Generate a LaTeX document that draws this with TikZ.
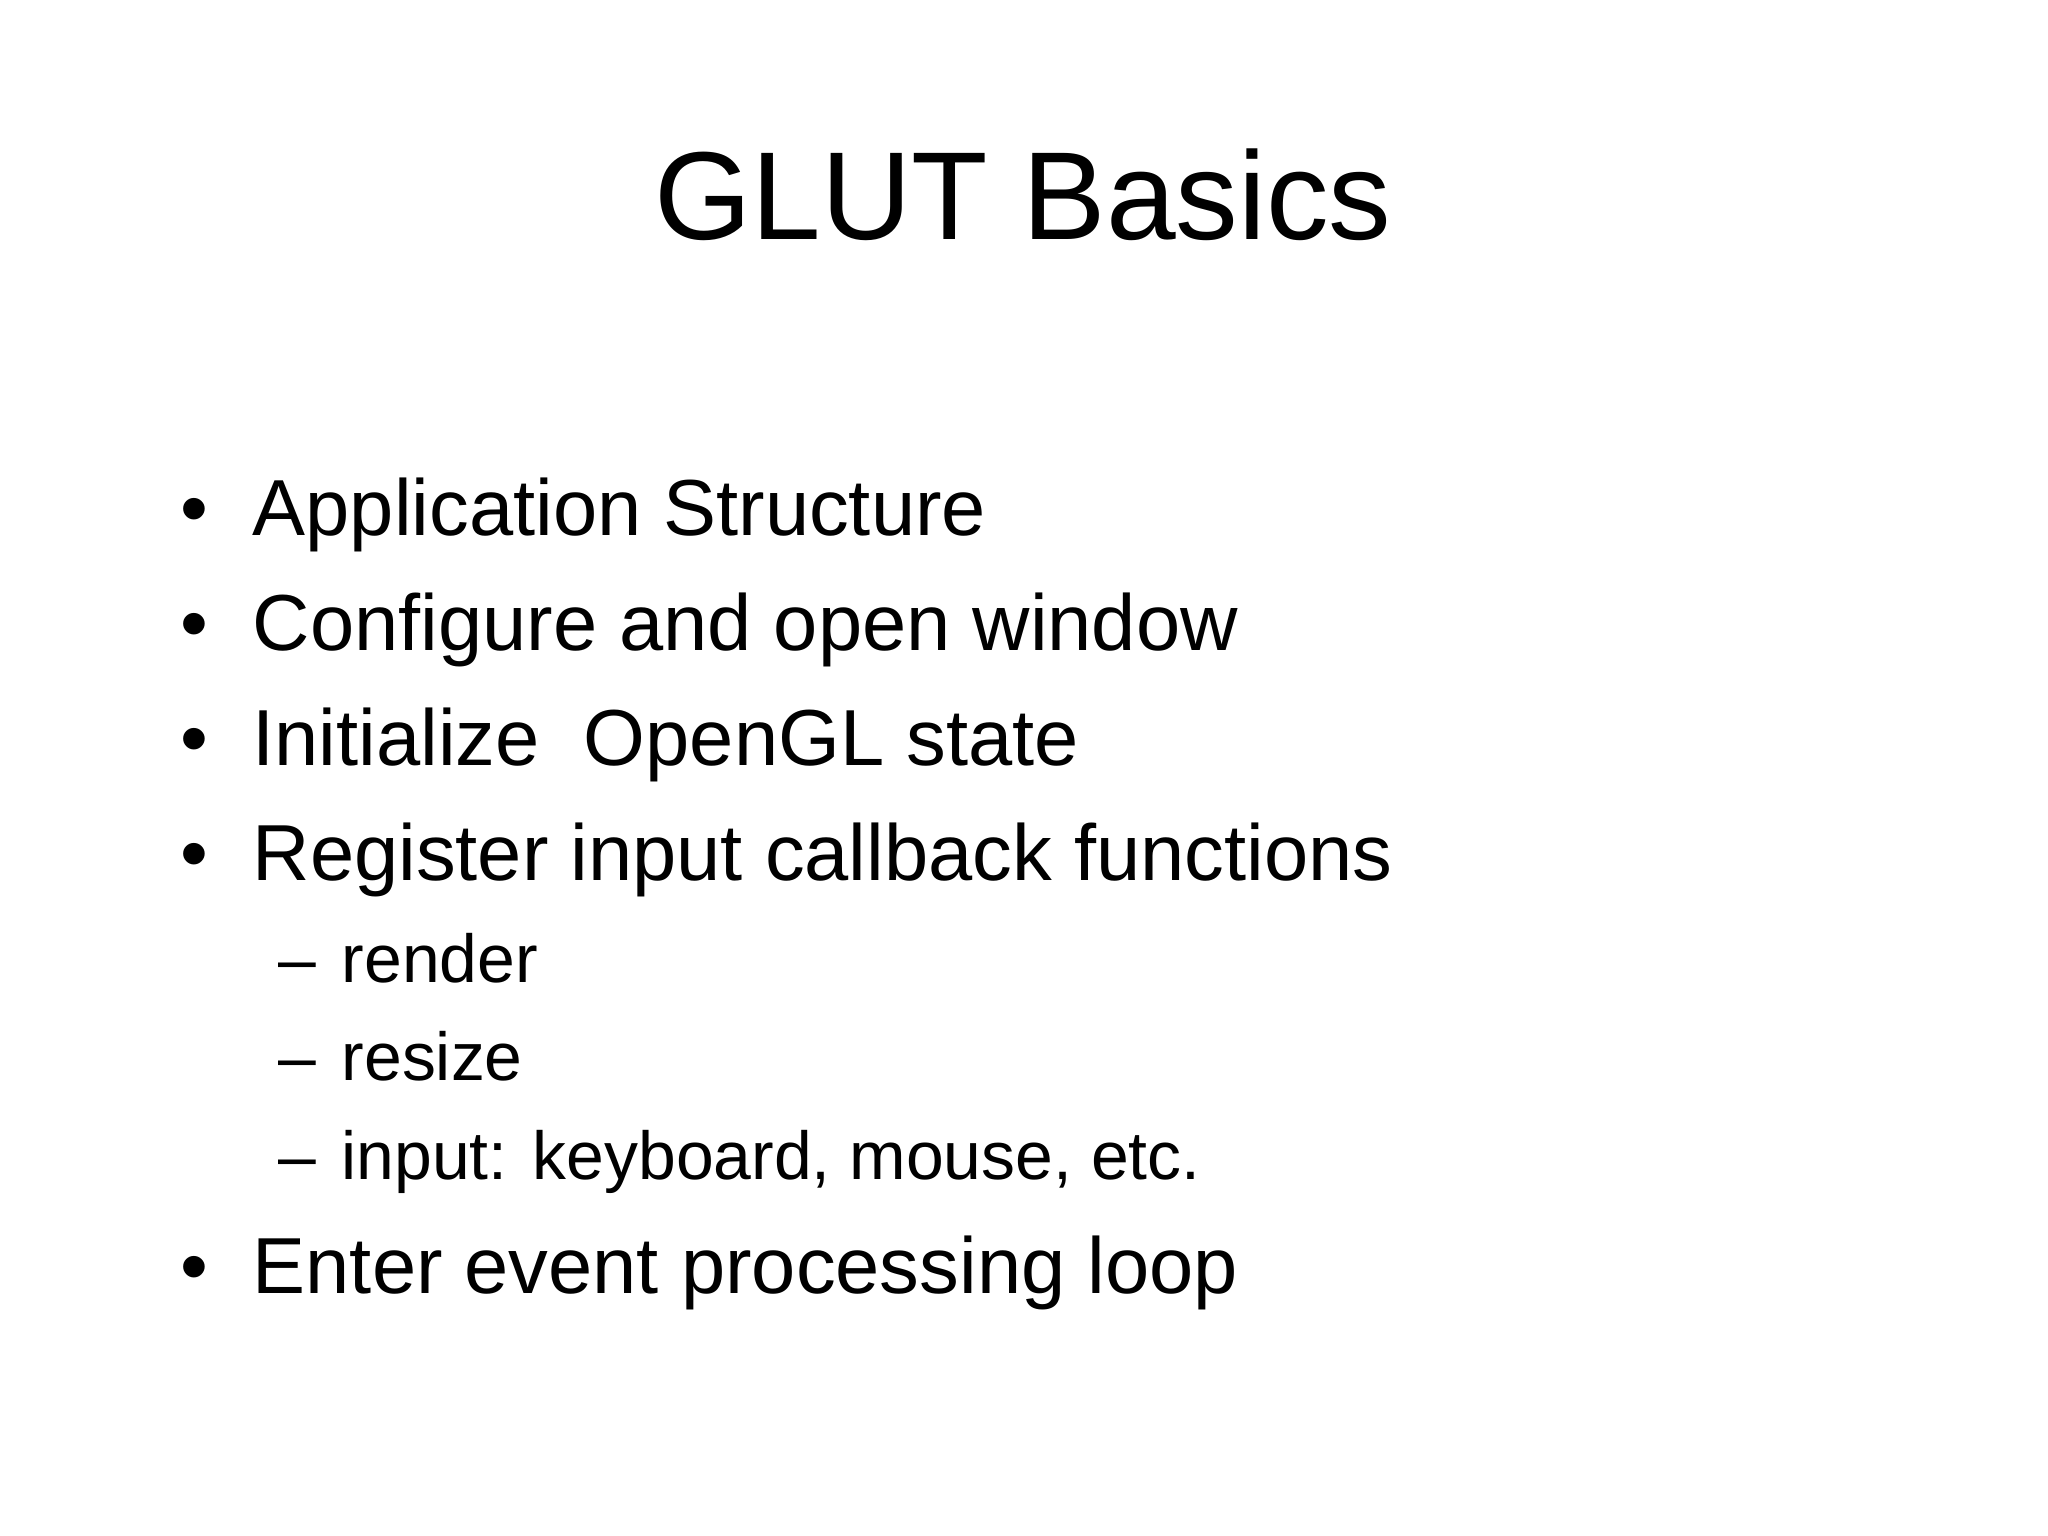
\documentclass[tikz,border=0pt]{standalone}
\usepackage{fontspec}
\setmainfont{Liberation Sans}
\begin{document}
\begin{tikzpicture}[x=0.01cm,y=-0.01cm,
  main/.style={anchor=base west,inner sep=0pt,font=\fontsize{22.6}{27}\selectfont},
  sub/.style={anchor=base west,inner sep=0pt,font=\fontsize{19.3}{23}\selectfont}]
\useasboundingbox[fill=white] (0,0) rectangle (2048,1536);
\node[anchor=base,inner sep=0pt,font=\fontsize{35.6}{42}\selectfont] (title) at (1023,239) {GLUT Basics};
\foreach \y/\t/\n in {535/Application Structure/a,650/Configure and open window/b,765/Initialize\ \ OpenGL state/c,880/Register input callback functions/d,1293/Enter event processing loop/e}{
  \node[main] (b\n) at (180,\y) {•};
  \node[main] (t\n) at (252,\y) {\t};
}
\foreach \y/\t/\n in {982/render/a,1080/resize/b,1179/{input: keyboard, mouse, etc.}/c}{
  \node[sub] (d\n) at (278,\y) {–};
  \node[sub] (s\n) at (341,\y) {\t};
}
\end{tikzpicture}
\end{document}
